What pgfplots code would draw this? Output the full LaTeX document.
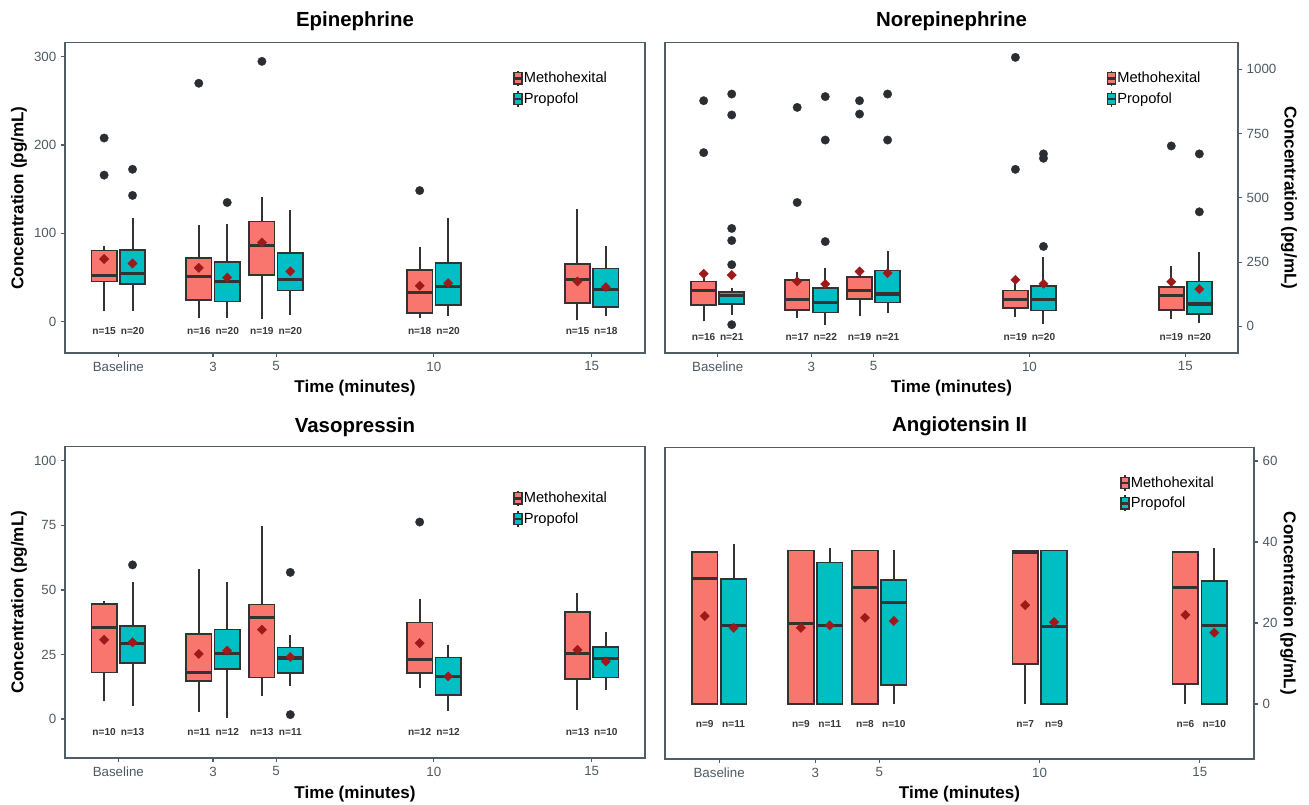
\documentclass[border=0pt]{standalone}
\usepackage{fontspec}
\setmainfont{Liberation Sans}
\usepackage{pgfplots}
\pgfplotsset{compat=1.18}
\usepgfplotslibrary{statistics}
\definecolor{methcol}{HTML}{F8766D}
\definecolor{propcol}{HTML}{00BFC4}
\definecolor{edgecol}{HTML}{333333}
\definecolor{meancol}{HTML}{9E1A1A}
\definecolor{outcol}{HTML}{2A2D31}
\definecolor{framecol}{HTML}{4F5D66}
\definecolor{tickcol}{HTML}{4D5A63}
\newcommand{\bx}[7]{\addplot[forget plot, boxplot prepared={draw direction=y, draw position=#1, lower whisker=#3, lower quartile=#4, median=#5, upper quartile=#6, upper whisker=#7, box extend=0.8, whisker extend=0}, fill=#2, draw=edgecol, line width=1.2pt, mark=none] coordinates {};}
\newcommand{\legimg}[1]{\addlegendimage{legend image code/.code={\draw[fill=#1,draw=edgecol,line width=0.9pt] (0pt,-4.2pt) rectangle (6pt,4.2pt); \draw[edgecol,line width=0.9pt] (3pt,4.2pt)--(3pt,5.9pt) (3pt,-4.2pt)--(3pt,-5.9pt); \draw[edgecol,line width=1.8pt] (0pt,0pt)--(6pt,0pt);}}}
\newcommand{\ttlfont}{\bfseries\fontsize{15.3}{18}\selectfont}
\newcommand{\labfont}{\bfseries\fontsize{12.8}{15}\selectfont}
\pgfplotsset{
  boxplot/every median/.style={line width=2.4pt},
  boxplot/draw/lower whisker/.code={\draw[edgecol, line width=1.5pt] (boxplot box cs:\pgfplotsboxplotvalue{lower whisker},0.5) -- (boxplot box cs:\pgfplotsboxplotvalue{lower quartile},0.5);},
  boxplot/draw/upper whisker/.code={\draw[edgecol, line width=1.5pt] (boxplot box cs:\pgfplotsboxplotvalue{upper quartile},0.5) -- (boxplot box cs:\pgfplotsboxplotvalue{upper whisker},0.5);},
  panel/.style={scale only axis, xmin=-1.69, xmax=16.69,
    xtick={0,3,5,10,15}, xticklabels={Baseline,3,5,10,15},
    axis line style={draw=framecol, line width=1pt},
    tick style={draw=framecol, line width=0.9pt},
    tick align=outside, major tick length=3pt, minor tick num=0,
    xtick pos=lower,
    /pgf/number format/assume math mode=true,
    /pgf/number format/1000 sep={},
    scaled y ticks=false,
    tick label style={font=\fontsize{10}{12}\selectfont, text=tickcol},
    xlabel={Time (minutes)}, ylabel={Concentration (pg/mL)},
    legend cell align=left,
  },
  leg/.style={legend style={draw=none, fill=none, inner sep=0pt, outer sep=0pt,
    font=\fontsize{11}{13}\selectfont, nodes={inner sep=0.5pt}, row sep=2.6pt,
    at={(#1)}, anchor=north west}},
  labpos/.style n args={3}{
    every axis title/.style={at={(axis description cs:0.5,#1)}, anchor=center, font=\ttlfont},
    every axis x label/.style={at={(axis description cs:0.5,#2)}, anchor=center, font=\labfont},
    every axis y label/.style={at={(axis description cs:#3,0.5)}, anchor=center, rotate=90, font=\labfont}},
  labposr/.style n args={3}{
    every axis title/.style={at={(axis description cs:0.5,#1)}, anchor=center, font=\ttlfont},
    every axis x label/.style={at={(axis description cs:0.5,#2)}, anchor=center, font=\labfont},
    every axis y label/.style={at={(axis description cs:#3,0.5)}, anchor=center, rotate=-90, font=\labfont}},
  meanplot/.style={forget plot, only marks, color=meancol, mark=square*, mark size=2.5pt, mark options={rotate=45, fill=meancol, draw=meancol, line width=0.2pt}},
  outplot/.style={forget plot, only marks, color=outcol, mark=*, mark size=3.2pt, mark options={fill=outcol, draw=outcol, line width=0.2pt}},
  nplot/.style={forget plot, only marks, mark=none, nodes near coords, point meta=explicit symbolic,
    every node near coord/.style={font=\bfseries\fontsize{7.6}{9}\selectfont, text=black!78, anchor=center, inner sep=0pt}},
}
\begin{document}
\begin{tikzpicture}
\useasboundingbox (0,0) rectangle (981.75pt,603.75pt);
% ---------------- Epinephrine
\begin{axis}[panel, at={(48.75pt,339pt)}, anchor=south west, width=435pt, height=232.7pt,
  ymin=-35.4, ymax=315.9, ytick={0,100,200,300}, ytick pos=left,
  title={Epinephrine}, labpos={1.0677}{-0.1144}{-0.0793}, leg={0.772,0.912}]
\bx{-0.45}{methcol}{11.7}{45.6}{52}{80.7}{86}
\bx{0.45}{propcol}{12.4}{42.6}{55}{81.4}{118}
\bx{2.55}{methcol}{4}{24.9}{51.3}{72.4}{109}
\bx{3.45}{propcol}{4}{23}{45.2}{67.8}{111}
\bx{4.55}{methcol}{3}{53}{86.7}{113.5}{141.7}
\bx{5.45}{propcol}{8}{35.4}{47.5}{77.6}{126}
\bx{9.55}{methcol}{4}{9.8}{33.2}{58.8}{85}
\bx{10.45}{propcol}{6.8}{18.8}{40}{66.3}{117}
\bx{14.55}{methcol}{1.5}{21.1}{47.5}{65.2}{127.4}
\bx{15.45}{propcol}{6.8}{16.6}{36.2}{60.3}{86.3}
\addplot[meanplot] coordinates {(-0.45,71)(0.45,66)(2.55,61)(3.45,50)(4.55,89.7)(5.45,57)(9.55,40.7)(10.45,43.7)(14.55,45.6)(15.45,39.2)};
\addplot[outplot] coordinates {(-0.45,208)(-0.45,166)(0.45,172.6)(0.45,143)(2.55,270)(3.45,135)(4.55,294.8)(9.55,148.5)};
\addplot[nplot] coordinates {(-0.45,-10.6)[n=15] (0.45,-10.6)[n=20] (2.55,-10.6)[n=16] (3.45,-10.6)[n=20] (4.55,-10.6)[n=19] (5.45,-10.6)[n=20] (9.55,-10.6)[n=18] (10.45,-10.6)[n=20] (14.55,-10.6)[n=15] (15.45,-10.6)[n=18]};
\legimg{methcol}\addlegendentry{Methohexital}
\legimg{propcol}\addlegendentry{Propofol}
\end{axis}
% ---------------- Norepinephrine
\begin{axis}[panel, at={(498.75pt,339pt)}, anchor=south west, width=429.75pt, height=232.7pt,
  ymin=-103.6, ymax=1103.6, ytick={0,250,500,750,1000}, ytick pos=right, yticklabel pos=right,
  title={Norepinephrine}, labposr={1.0677}{-0.1144}{1.089}, leg={0.770,0.912}]
\bx{-0.45}{methcol}{19.4}{84.2}{138.6}{174.9}{200}
\bx{0.45}{propcol}{45}{88}{119}{134.7}{150}
\bx{2.55}{methcol}{32.4}{64.8}{103.6}{181}{210}
\bx{3.45}{propcol}{6.5}{54.4}{93}{149}{229}
\bx{4.55}{methcol}{39}{107.5}{140}{191.7}{213}
\bx{5.45}{propcol}{51.8}{93}{125.6}{217.6}{295}
\bx{9.55}{methcol}{36}{72.5}{106}{140}{175}
\bx{10.45}{propcol}{10}{62}{106}{158}{269}
\bx{14.55}{methcol}{28.5}{64.8}{119}{152.8}{235.7}
\bx{15.45}{propcol}{13}{49}{86.8}{174.9}{291}
\addplot[meanplot] coordinates {(-0.45,204.7)(0.45,199.5)(2.55,175)(3.45,164.5)(4.55,213.7)(5.45,207)(9.55,181)(10.45,165.8)(14.55,173.6)(15.45,145)};
\addplot[outplot] coordinates {(-0.45,878)(-0.45,676)(0.45,904)(0.45,822.5)(0.45,381)(0.45,334)(0.45,240)(0.45,6.5)(2.55,852)(2.55,482)(3.45,894)(3.45,725)(3.45,330)(4.55,878)(4.55,826)(5.45,904)(5.45,725)(9.55,1046.6)(9.55,611)(10.45,311)(10.45,671)(10.45,654)(14.55,702)(15.45,671)(15.45,445.6)};
\addplot[nplot] coordinates {(-0.45,-42.7)[n=16] (0.45,-42.7)[n=21] (2.55,-42.7)[n=17] (3.45,-42.7)[n=22] (4.55,-42.7)[n=19] (5.45,-42.7)[n=21] (9.55,-42.7)[n=19] (10.45,-42.7)[n=20] (14.55,-42.7)[n=19] (15.45,-42.7)[n=20]};
\legimg{methcol}\addlegendentry{Methohexital}
\legimg{propcol}\addlegendentry{Propofol}
\end{axis}
% ---------------- Vasopressin
\begin{axis}[panel, at={(48.75pt,35.25pt)}, anchor=south west, width=435pt, height=233.5pt,
  ymin=-15.1, ymax=105.5, ytick={0,25,50,75,100}, ytick pos=left,
  title={Vasopressin}, labpos={1.064}{-0.1166}{-0.0793}, leg={0.772,0.861}]
\bx{-0.45}{methcol}{6.8}{18}{35.5}{44.5}{45.8}
\bx{0.45}{propcol}{5.2}{21.7}{29.4}{36.1}{52.9}
\bx{2.55}{methcol}{2.7}{14.8}{18}{32.9}{58}
\bx{3.45}{propcol}{0.4}{19.4}{25.5}{34.6}{53.2}
\bx{4.55}{methcol}{9}{16.1}{39.4}{44.3}{74.6}
\bx{5.45}{propcol}{12.9}{17.8}{23.6}{27.7}{32.6}
\bx{9.55}{methcol}{12}{17.8}{23}{37.4}{46.6}
\bx{10.45}{propcol}{3.2}{9.4}{16.5}{23.9}{28.8}
\bx{14.55}{methcol}{3.6}{15.5}{25.5}{41.5}{49}
\bx{15.45}{propcol}{11.4}{16.1}{23.4}{27.9}{33.7}
\addplot[meanplot] coordinates {(-0.45,30.7)(0.45,29.7)(2.55,25.2)(3.45,26.5)(4.55,34.6)(5.45,24)(9.55,29.4)(10.45,16.5)(14.55,26.8)(15.45,22.3)};
\addplot[outplot] coordinates {(0.45,59.7)(5.45,56.8)(5.45,1.7)(9.55,76.3)};
\addplot[nplot] coordinates {(-0.45,-4.9)[n=10] (0.45,-4.9)[n=13] (2.55,-4.9)[n=11] (3.45,-4.9)[n=12] (4.55,-4.9)[n=13] (5.45,-4.9)[n=11] (9.55,-4.9)[n=12] (10.45,-4.9)[n=12] (14.55,-4.9)[n=13] (15.45,-4.9)[n=10]};
\legimg{methcol}\addlegendentry{Methohexital}
\legimg{propcol}\addlegendentry{Propofol}
\end{axis}
% ---------------- Angiotensin II
\begin{axis}[panel, at={(498.75pt,34.5pt)}, anchor=south west, width=441.75pt, height=233.5pt,
  ymin=-13.6, ymax=63.3, ytick={0,20,40,60}, ytick pos=right, yticklabel pos=right,
  title={Angiotensin II}, labposr={1.0697}{-0.1134}{1.058}, leg={0.772,0.914}]
\bx{-0.45}{methcol}{0}{0}{31}{37.6}{37.6}
\bx{0.45}{propcol}{0}{0}{19.3}{30.9}{39.4}
\bx{2.55}{methcol}{0}{0}{19.9}{37.9}{37.9}
\bx{3.45}{propcol}{0}{0}{19.4}{34.9}{38.6}
\bx{4.55}{methcol}{0}{0}{28.8}{37.9}{37.9}
\bx{5.45}{propcol}{0}{4.7}{25}{30.6}{37.9}
\bx{9.55}{methcol}{0}{9.9}{37.4}{37.9}{37.9}
\bx{10.45}{propcol}{0}{0}{19.1}{37.9}{37.9}
\bx{14.55}{methcol}{0}{4.9}{28.7}{37.6}{37.6}
\bx{15.45}{propcol}{0}{0}{19.3}{30.4}{38.6}
\addplot[meanplot] coordinates {(-0.45,21.7)(0.45,18.8)(2.55,18.8)(3.45,19.4)(4.55,21.3)(5.45,20.5)(9.55,24.4)(10.45,20.2)(14.55,22)(15.45,17.6)};
\addplot[nplot] coordinates {(-0.45,-5)[n=9] (0.45,-5)[n=11] (2.55,-5)[n=9] (3.45,-5)[n=11] (4.55,-5)[n=8] (5.45,-5)[n=10] (9.55,-5)[n=7] (10.45,-5)[n=9] (14.55,-5)[n=6] (15.45,-5)[n=10]};
\legimg{methcol}\addlegendentry{Methohexital}
\legimg{propcol}\addlegendentry{Propofol}
\end{axis}
\end{tikzpicture}
\end{document}
